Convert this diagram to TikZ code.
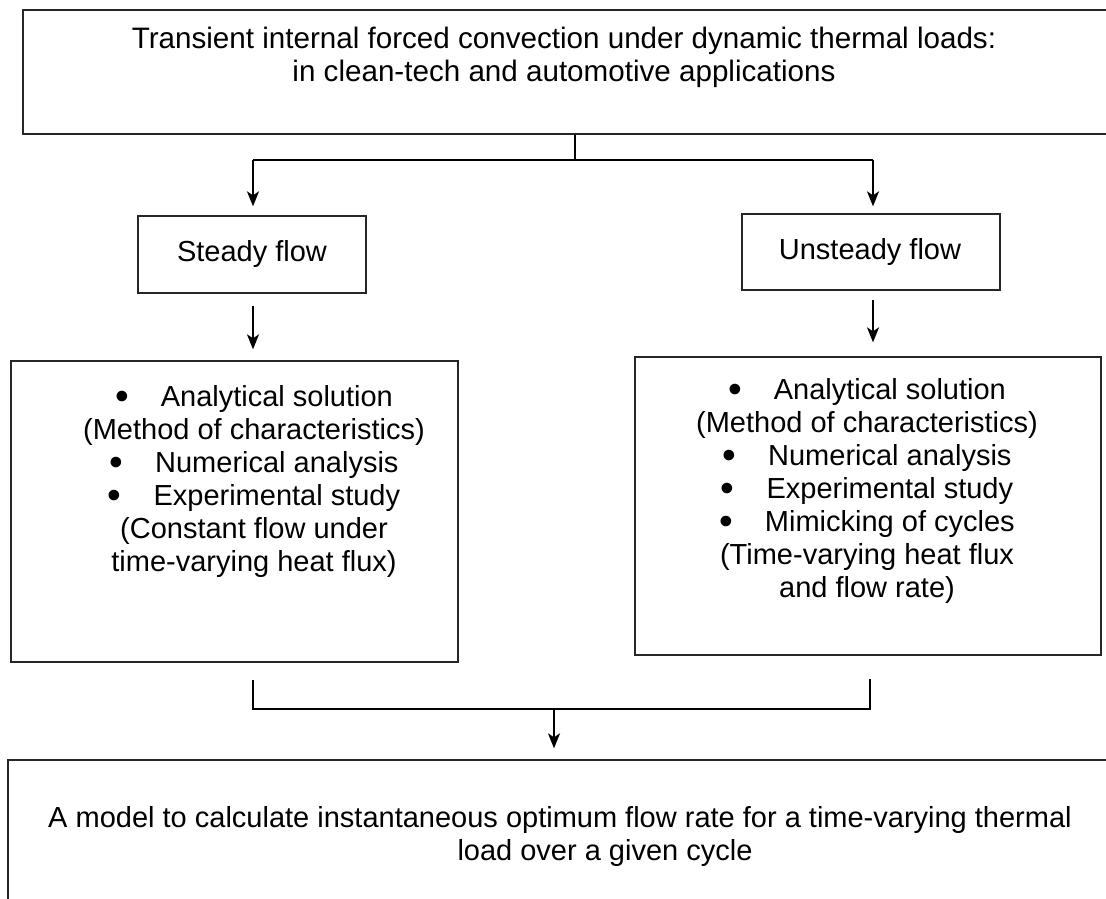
\documentclass[tikz,border=0pt]{standalone}
\usepackage{fontspec}
\setmainfont{Liberation Sans}
\usetikzlibrary{arrows.meta,calc}
\newcommand{\bigbul}{\smash{\raisebox{-3.5pt}{\scalebox{1.35}{\textbullet}}}\hspace{32pt}}
\begin{document}
\begin{tikzpicture}[x=1pt,y=-1pt,
  box/.style={draw=black!85, line width=1.3pt, inner sep=0pt},
  txt/.style={inner sep=0pt, align=center, font=\fontsize{29}{33}\selectfont},
  conn/.style={line width=2.8pt, black},
  arr/.style={line width=2pt, black, -{Stealth[length=15pt,width=12pt,inset=4pt]}},
]
\useasboundingbox (0,0) rectangle (1106,899);
\clip (0,0) rectangle (1106,899);

% boxes
\node[box, minimum width=1107pt, minimum height=124pt] (top) at (576.5,72) {};
\node[box, minimum width=228pt, minimum height=77pt] (steady) at (252,254.5) {};
\node[box, minimum width=258pt, minimum height=76pt] (unsteady) at (871,252) {};
\node[box, minimum width=447pt, minimum height=301pt] (left) at (234.5,511.5) {};
\node[box, minimum width=466pt, minimum height=298pt] (right) at (868,506) {};
\node[box, minimum width=1122pt, minimum height=190pt] (bottom) at (569,855) {};

% texts
\node[txt, anchor=north, font=\fontsize{29.6}{33}\selectfont] (toptext) at (564,27) {Transient internal forced convection under dynamic thermal loads:\\in clean-tech and automotive applications};
\node[txt] (steadytext) at (252,254) {Steady flow};
\node[txt] (unsteadytext) at (870,252) {Unsteady flow};
\node[txt, anchor=north] (lefttext) at (254,385) {\bigbul Analytical solution\\(Method of characteristics)\\\bigbul Numerical analysis\\\bigbul Experimental study\\(Constant flow under\\time-varying heat flux)};
\node[txt, anchor=north] (righttext) at (867,378) {\bigbul Analytical solution\\(Method of characteristics)\\\bigbul Numerical analysis\\\bigbul Experimental study\\\bigbul Mimicking of cycles\\(Time-varying heat flux\\and flow rate)};
\node[txt, anchor=north] (bottomtext) at (560,806) {A model to calculate instantaneous optimum flow rate for a time-varying thermal\\\hspace*{90pt}load over a given cycle};

% split connector
\coordinate (splitM) at (575,160);
\coordinate (splitL) at (253,160);
\coordinate (splitR) at (873,160);
\draw[conn] (top.south -| splitM) -- (splitM);
\draw[conn] (splitL) -- (splitR);
\draw[arr] (splitL) -- ($(steady.north -| splitL)+(0,-9)$);
\draw[arr] (splitR) -- ($(unsteady.north -| splitR)+(0,-7)$);

% down arrows
\draw[arr] ($(steady.south -| splitL)+(0,12)$) -- ($(left.north -| splitL)+(0,-11)$);
\draw[arr] ($(unsteady.south -| splitR)+(0,9)$) -- ($(right.north -| splitR)+(0,-14)$);

% merge connector
\coordinate (mergeL) at (253,709);
\coordinate (mergeR) at (870,709);
\coordinate (mergeM) at (554,709);
\draw[conn] ($(left.south -| mergeL)+(0,17)$) -- (mergeL) -- (mergeR) -- ($(right.south -| mergeR)+(0,23)$);
\draw[arr] (mergeM) -- ($(bottom.north -| mergeM)+(0,-11)$);
\end{tikzpicture}
\end{document}
